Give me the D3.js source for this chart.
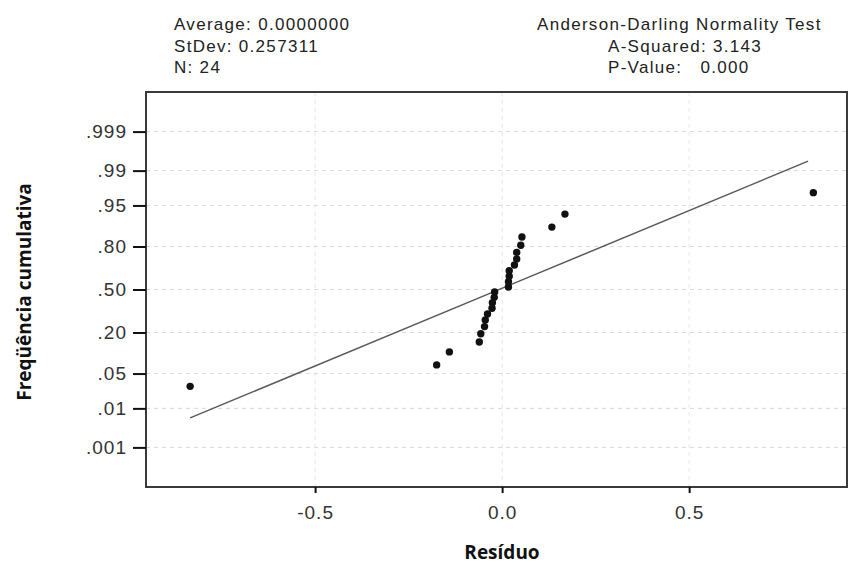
<!DOCTYPE html>
<html>
<head>
<meta charset="utf-8">
<script src="https://cdn.jsdelivr.net/npm/d3@7"></script>
<style>
  html, body { margin: 0; padding: 0; background: #fff; }
  svg { display: block; }
  .stat { font-family: "Liberation Sans", Arial, sans-serif; font-size: 17px; letter-spacing: 1.3px; fill: #222; white-space: pre; }
  .tick text { font-family: "Liberation Sans", Arial, sans-serif; font-size: 19px; letter-spacing: 1px; fill: #333; }
  .title { font-family: "Open Sans", "Noto Sans", sans-serif; font-weight: bold; font-size: 19px; fill: #111; }
</style>
</head>
<body>
<svg id="chart" width="849" height="566"></svg>
<script>
// Residuals in ascending order
const residuals = [-0.834, -0.175, -0.141, -0.061, -0.057, -0.047, -0.045, -0.039,
                   -0.027, -0.026, -0.021, -0.020, 0.017, 0.017, 0.019, 0.019,
                   0.033, 0.039, 0.039, 0.050, 0.053, 0.133, 0.168, 0.832];
// Cumulative frequency (median rank) of each residual
const cumFreq = [0.029, 0.070, 0.111, 0.152, 0.193, 0.234, 0.275, 0.316,
                 0.357, 0.398, 0.439, 0.480, 0.520, 0.561, 0.602, 0.643,
                 0.684, 0.725, 0.766, 0.807, 0.848, 0.889, 0.930, 0.971];

// Fitted normal line endpoints
const fitResid = [-0.834, 0.818];
const fitFreq = [0.006, 0.994];

// Axis ticks
const probTicks = [0.001, 0.01, 0.05, 0.20, 0.50, 0.80, 0.95, 0.99, 0.999];
const probTickLabels = [".001", ".01", ".05", ".20", ".50", ".80", ".95", ".99", ".999"];
const residTicks = [-0.5, 0.0, 0.5];
const residTickLabels = ["-0.5", "0.0", "0.5"];

// Summary text
const statsLeft = ["Average: 0.0000000", "StDev: 0.257311", "N: 24"];
const statsRight = ["Anderson-Darling Normality Test", "A-Squared: 3.143", "P-Value:   0.000"];

// Inverse standard normal CDF (Acklam's rational approximation)
function qnorm(p) {
  const a = [-3.969683028665376e+01, 2.209460984245205e+02, -2.759285104469687e+02,
             1.383577518672690e+02, -3.066479806614716e+01, 2.506628277459239e+00];
  const b = [-5.447609879822406e+01, 1.615858368580409e+02, -1.556989798598866e+02,
             6.680131188771972e+01, -1.328068155288572e+01];
  const c = [-7.784894002430293e-03, -3.223964580411365e-01, -2.400758277161838e+00,
             -2.549671498220229e+00, 4.374664141464968e+00, 2.938163982698783e+00];
  const d = [7.784695709041462e-03, 3.224671290700398e-01, 2.445134137142996e+00,
             3.754408661907416e+00];
  const pl = 0.02425, ph = 1 - pl;
  let q, r;
  if (p < pl) {
    q = Math.sqrt(-2 * Math.log(p));
    return (((((c[0]*q+c[1])*q+c[2])*q+c[3])*q+c[4])*q+c[5]) /
           ((((d[0]*q+d[1])*q+d[2])*q+d[3])*q+1);
  } else if (p <= ph) {
    q = p - 0.5; r = q * q;
    return (((((a[0]*r+a[1])*r+a[2])*r+a[3])*r+a[4])*r+a[5]) * q /
           (((((b[0]*r+b[1])*r+b[2])*r+b[3])*r+b[4])*r+1);
  } else {
    q = Math.sqrt(-2 * Math.log(1 - p));
    return -(((((c[0]*q+c[1])*q+c[2])*q+c[3])*q+c[4])*q+c[5]) /
            ((((d[0]*q+d[1])*q+d[2])*q+d[3])*q+1);
  }
}

const plot = { left: 146, right: 847, top: 92, bottom: 487 };
const svg = d3.select("#chart");

const x = d3.scaleLinear().domain([-0.952, 0.922]).range([plot.left, plot.right]);
const z = d3.scaleLinear().domain([-3.865, 3.865]).range([plot.bottom, plot.top]);
const y = p => z(qnorm(p));

// Grid
const grid = svg.append("g").attr("stroke", "#d9d9d9").attr("stroke-width", 1)
  .attr("stroke-dasharray", "4,4").attr("fill", "none");
grid.selectAll("line.h").data(probTicks).join("line").attr("class", "h")
  .attr("x1", plot.left).attr("x2", plot.right)
  .attr("y1", d => y(d)).attr("y2", d => y(d));
grid.selectAll("line.v").data(residTicks).join("line").attr("class", "v")
  .attr("x1", d => x(d)).attr("x2", d => x(d))
  .attr("y1", plot.top).attr("y2", plot.bottom)
  .attr("stroke", "#e6e6e6");

// Fitted line
svg.append("line")
  .attr("x1", x(fitResid[0])).attr("y1", y(fitFreq[0]))
  .attr("x2", x(fitResid[1])).attr("y2", y(fitFreq[1]))
  .attr("stroke", "#5a5a5a").attr("stroke-width", 1.5);

// Points
svg.append("g").selectAll("circle").data(residuals).join("circle")
  .attr("cx", d => x(d)).attr("cy", (d, i) => y(cumFreq[i]))
  .attr("r", 3.7).attr("fill", "#111");

// Frame
svg.append("rect")
  .attr("x", plot.left).attr("y", plot.top)
  .attr("width", plot.right - plot.left).attr("height", plot.bottom - plot.top)
  .attr("fill", "none").attr("stroke", "#3a3a3a").attr("stroke-width", 2);

// Y axis
const yAxis = d3.axisLeft(z)
  .tickValues(probTicks.map(qnorm))
  .tickFormat((d, i) => probTickLabels[i])
  .tickSize(13).tickPadding(6);
const gy = svg.append("g").attr("transform", `translate(${plot.left},0)`).call(yAxis);
gy.select(".domain").remove();
gy.selectAll(".tick line").attr("stroke", "#111").attr("stroke-width", 2);

// X axis
const xAxis = d3.axisBottom(x)
  .tickValues(residTicks)
  .tickFormat((d, i) => residTickLabels[i])
  .tickSize(6).tickPadding(13);
const gx = svg.append("g").attr("transform", `translate(0,${plot.bottom})`).call(xAxis);
gx.select(".domain").remove();
gx.selectAll(".tick line").attr("stroke", "#111").attr("stroke-width", 2);

// Summary statistics
svg.append("g").selectAll("text").data(statsLeft).join("text")
  .attr("class", "stat").attr("x", 174).attr("y", (d, i) => 30 + i * 21.5)
  .text(d => d);
svg.append("g").selectAll("text").data(statsRight).join("text")
  .attr("class", "stat").attr("x", (d, i) => i === 0 ? 537 : 608)
  .attr("y", (d, i) => 30 + i * 21.5)
  .text(d => d);

// Axis titles
svg.append("text").attr("class", "title")
  .attr("transform", "translate(24,292) rotate(-90)")
  .attr("text-anchor", "middle").attr("dominant-baseline", "central")
  .text("Freqüência cumulativa");
svg.append("text").attr("class", "title")
  .attr("x", 502).attr("y", 559)
  .attr("text-anchor", "middle")
  .text("Resíduo");
</script>
</body>
</html>
